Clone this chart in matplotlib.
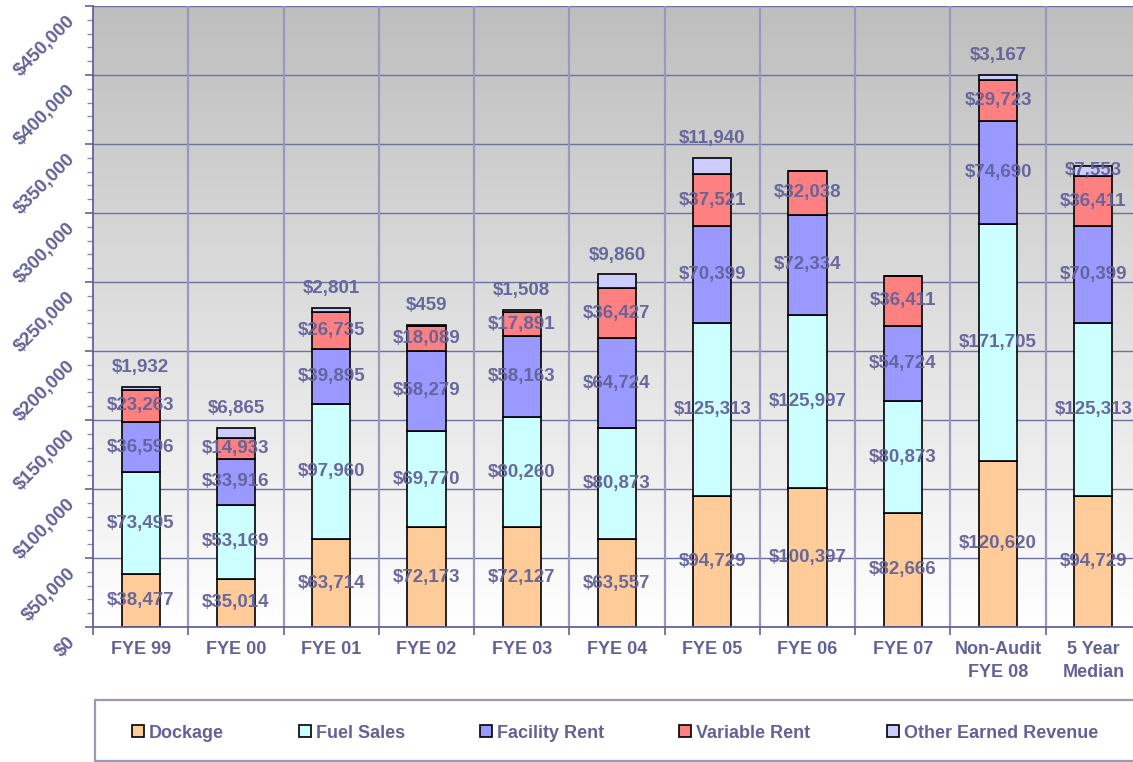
import numpy as np
import matplotlib
matplotlib.use("Agg")
import matplotlib.pyplot as plt
from matplotlib.patches import Rectangle
from matplotlib.ticker import MultipleLocator, FixedLocator, NullFormatter, FixedFormatter
from matplotlib.transforms import blended_transform_factory, ScaledTranslation

categories = ["FYE 99", "FYE 00", "FYE 01", "FYE 02", "FYE 03", "FYE 04",
              "FYE 05", "FYE 06", "FYE 07", "Non-Audit\nFYE 08", "5 Year\nMedian"]
dockage = [38477, 35014, 63714, 72173, 72127, 63557, 94729, 100397, 82666, 120620, 94729]
fuel_sales = [73495, 53169, 97960, 69770, 80260, 80873, 125313, 125997, 80873, 171705, 125313]
facility_rent = [36596, 33916, 39895, 58279, 58163, 64724, 70399, 72334, 54724, 74690, 70399]
variable_rent = [23263, 14933, 26735, 18089, 17891, 36427, 37521, 32038, 36411, 29723, 36411]
other_revenue = [1932, 6865, 2801, 459, 1508, 9860, 11940, 0, 0, 3167, 7553]
# the median's small top label sits inside its segment; the others float above the bar
other_label_inside = [False] * 10 + [True]

series_names = ["Dockage", "Fuel Sales", "Facility Rent", "Variable Rent", "Other Earned Revenue"]
series_colors = ["#FFCC99", "#CCFFFF", "#9999FF", "#FF8080", "#CCCCFF"]
y_ticks = list(range(0, 450001, 50000))

TEXT = "#62629a"
FONT = "Liberation Sans"
plt.rcParams["font.family"] = [FONT, "DejaVu Sans"]
plt.rcParams["font.weight"] = "bold"

W, H = 1133, 762
fig = plt.figure(figsize=(W / 100, H / 100), dpi=100)
fig.patch.set_facecolor("white")
ax = fig.add_axes([93 / W, (H - 627) / H, 1048 / W, 621 / H])

x = np.arange(len(categories))
ax.set_xlim(-0.5, len(categories) - 0.5)
ax.set_ylim(0, 450000)
ax.set_autoscale_on(False)

# white at the bottom fading to grey at the top
grad = np.linspace(1.0, 0.745, 256).reshape(-1, 1)
rgb = np.dstack([grad, grad, grad])
ax.imshow(rgb, extent=[0, 1, 0, 1], transform=ax.transAxes,
          aspect="auto", zorder=0, origin="lower", interpolation="bilinear")

# gridlines
for v in y_ticks[1:]:
    ax.axhline(v, color="#7070a0", lw=1.0, zorder=1)
for b in np.arange(0.5, len(categories) - 0.5, 1):
    ax.axvline(b, color="#9898c0", lw=1.6, zorder=1)

# stacked bars
series = [dockage, fuel_sales, facility_rent, variable_rent, other_revenue]
bottom = np.zeros(len(categories))
for name, vals, col in zip(series_names, series, series_colors):
    vals = np.array(vals, dtype=float)
    ax.bar(x, vals, width=0.4, bottom=bottom, color=col, edgecolor="black",
           linewidth=1.2, zorder=3, label=name)
    bottom = bottom + vals

# value labels
lab_kw = dict(color=TEXT, fontsize=13.5, fontweight="bold", ha="center",
              va="center", zorder=5, alpha=0.95)
bottom = np.zeros(len(categories))
for si, vals in enumerate(series):
    for i, v in enumerate(vals):
        if v <= 0:
            continue
        txt = f"${v:,.0f}"
        if si == len(series) - 1 and not other_label_inside[i]:
            ax.annotate(txt, (x[i], bottom[i] + v), xytext=(0, 14),
                        textcoords="offset points", **lab_kw)
        else:
            ax.text(x[i], bottom[i] + v / 2, txt, **lab_kw)
    bottom = bottom + np.array(vals, dtype=float)

# spines
for s in ["top", "right"]:
    ax.spines[s].set_visible(False)
for s in ["left", "bottom"]:
    ax.spines[s].set_color(TEXT)
    ax.spines[s].set_linewidth(1.3)
    ax.spines[s].set_zorder(4)

# y ticks (labels drawn rotated by hand)
ax.yaxis.set_major_locator(FixedLocator(y_ticks))
ax.yaxis.set_minor_locator(MultipleLocator(10000))
ax.yaxis.set_major_formatter(NullFormatter())
ax.tick_params(axis="y", which="major", direction="out", length=6, width=1.2, color=TEXT)
ax.tick_params(axis="y", which="minor", direction="out", length=4, width=1.0, color="#8a8ab0")
ytrans = blended_transform_factory(ax.transAxes, ax.transData) + \
    ScaledTranslation(-0.20, -0.13, fig.dpi_scale_trans)
for v in y_ticks:
    ax.text(0, v, f"${v:,.0f}", transform=ytrans, rotation=45, rotation_mode="anchor",
            ha="right", va="center", color=TEXT, fontsize=13.5, fontweight="bold",
            clip_on=False)

# x ticks at category boundaries, labels at centres
ax.xaxis.set_major_locator(FixedLocator(np.arange(-0.5, len(categories), 1)))
ax.xaxis.set_major_formatter(NullFormatter())
ax.xaxis.set_minor_locator(FixedLocator(x))
ax.xaxis.set_minor_formatter(FixedFormatter(categories))
ax.tick_params(axis="x", which="major", direction="out", length=6, width=1.2, color=TEXT)
ax.tick_params(axis="x", which="minor", length=0, pad=10, labelsize=13,
               labelcolor=TEXT)
for t in ax.get_xticklabels(minor=True):
    t.set_fontweight("bold")
    t.set_linespacing(1.5)

# legend box along the bottom
fig.add_artist(Rectangle((95 / W, 1.5 / H), 1.1, (H - 700 - 1.5) / H,
                         transform=fig.transFigure, facecolor="white",
                         edgecolor="#9999bb", linewidth=1.6, zorder=1))
leg_x = [132, 299, 480, 679, 887]
leg_y = 731
for px, name, col in zip(leg_x, series_names, series_colors):
    fig.add_artist(Rectangle((px / W, (H - leg_y - 6) / H), 12 / W, 12 / H,
                             transform=fig.transFigure, facecolor=col,
                             edgecolor="black", linewidth=1.2, zorder=2))
    fig.text((px + 17) / W, (H - leg_y) / H, name, ha="left", va="center_baseline",
             color=TEXT, fontsize=13, fontweight="bold", zorder=3)

fig.savefig("out.png", dpi=100)
